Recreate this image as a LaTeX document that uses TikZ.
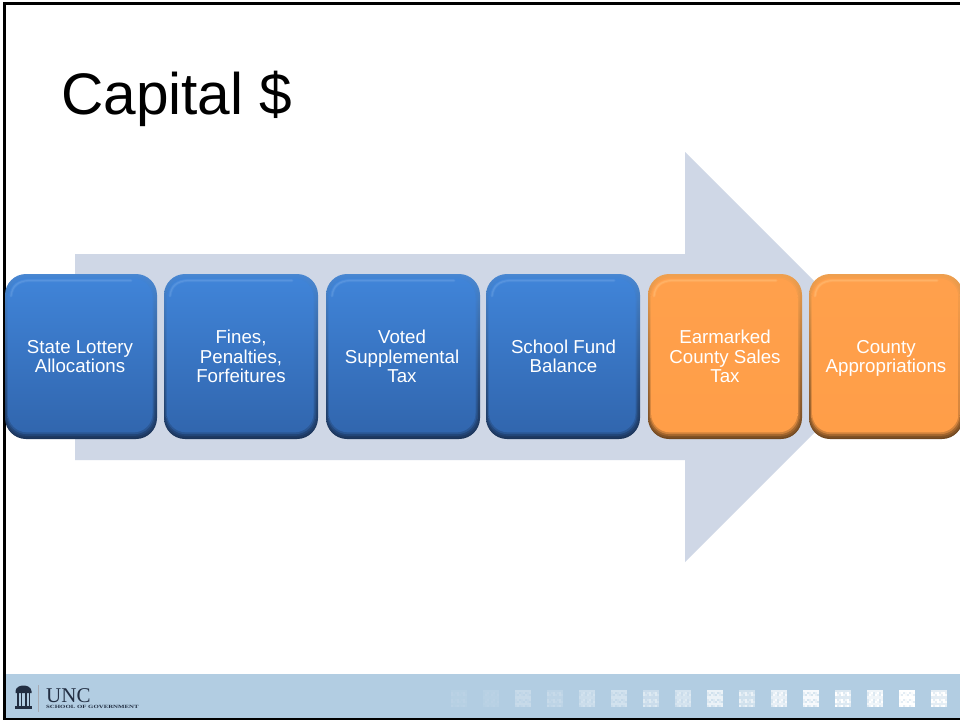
\documentclass[tikz,border=0pt]{standalone}
\usepackage{fontspec}
\usepackage{graphicx}
\setmainfont{Liberation Sans}
\newfontfamily\logoserif{Liberation Serif}
\usetikzlibrary{calc}
\definecolor{arrowfill}{HTML}{CFD7E6}
\definecolor{bandfill}{HTML}{B2CDE2}
\definecolor{frameink}{HTML}{000000}
\definecolor{logoink}{HTML}{222E42}
\definecolor{blueA}{HTML}{4A88D2}\definecolor{blueB}{HTML}{2C5896}\definecolor{blueC}{HTML}{1B3358}
\definecolor{blueD}{HTML}{4084D8}\definecolor{blueE}{HTML}{3166AE}\definecolor{blueH}{HTML}{7FB0EA}
\definecolor{orangeA}{HTML}{EEA050}\definecolor{orangeB}{HTML}{A87038}\definecolor{orangeC}{HTML}{6E4620}
\definecolor{orangeD}{HTML}{FFA04C}\definecolor{orangeE}{HTML}{FF9E48}\definecolor{orangeH}{HTML}{FFD090}
\newcommand{\lblstrut}{\rule[-4pt]{0pt}{14pt}}
\tikzset{
  boxlabel/.style={text=white,font=\fontsize{18.7}{19.4}\selectfont,align=center,inner sep=0pt},
  titletext/.style={font=\fontsize{58.6}{60}\selectfont,anchor=base west,inner sep=0pt,text=black},
}
% name, x1, x2, label, colour prefix, label centre
\newcommand{\bevbox}[6]{%
  \path[rounded corners=21pt,top color=#5A,middle color=#5B,bottom color=#5C] (#2,274) rectangle (#3,439);
  \foreach \k/\o in {0/0.12,1/0.25,2/0.5,3/1}{
    \path[rounded corners=19pt,top color=#5D,bottom color=#5E,opacity=\o]
      (#2+1+\k*0.7,275+\k*1.2) rectangle (#3-1.5-\k*1.0,437.5-\k*1.7);
  }
  \draw[#5H,line width=3pt,opacity=.18,line cap=round] (#2+6,296) .. controls (#2+7,286) and (#2+13,281) .. (#2+24,280.5) -- (#3-26,280.5);
  \draw[#5H,line width=1.2pt,opacity=.25,line cap=round] (#2+6,296) .. controls (#2+7,286) and (#2+13,281) .. (#2+24,280.5) -- (#3-26,280.5);
  \node[boxlabel] (#1) at (#6,358.5) {\lblstrut #4\lblstrut};
}
\begin{document}
\begin{tikzpicture}[x=1pt,y=-1pt]
\useasboundingbox (0,0) rectangle (960,721);
\fill[white] (0,0) rectangle (960,721);
% big arrow
\fill[arrowfill] (75,254) -- (685,254) -- (685,152) -- (890,357) -- (685,562) -- (685,460) -- (75,460) -- cycle;
% frame (under the boxes)
\fill[frameink] (3,2) rectangle (960,4.5);
\fill[frameink] (3,2) rectangle (5.5,720);
% boxes
\bevbox{b1}{5}{157}{State Lottery\\Allocations}{blue}{80}
\bevbox{b2}{164}{318}{Fines,\\Penalties,\\Forfeitures}{blue}{241}
\bevbox{b3}{326}{480}{Voted\\Supplemental\\Tax}{blue}{402}
\bevbox{b4}{486}{640}{School Fund\\Balance}{blue}{563.5}
\bevbox{b5}{648}{802}{Earmarked\\County Sales\\Tax}{orange}{725}
\bevbox{b6}{809}{963}{County\\Appropriations}{orange}{886}
% title
\node[titletext] (title) at (61,114) {Capital \$};
% footer band
\fill[bandfill] (5.5,674) rectangle (960,718);
% fading squares
\foreach \i in {0,...,15}{
  \pgfmathsetmacro{\sx}{451+32*\i}
  \pgfmathsetmacro{\op}{0.09+0.84*(floor(\i/2)/7)}
  \foreach \a in {0,...,7}{
    \foreach \b in {0,...,7}{
      \pgfmathsetmacro{\w}{min(1,\op*(0.7+0.3*mod(3*\a*\a+5*\b*\b+\a*\b+\i,3)))}
      \fill[white,opacity=\w] (\sx+\a*2,690+\b*2.125) rectangle ++(2,2.125);
    }
  }
}
% logo
\fill[logoink] (15.5,691) .. controls (16,687) and (20,685.5) .. (23.5,685.5) .. controls (27,685.5) and (31,687) .. (31.5,691) -- (31.5,693) -- (15.5,693) -- cycle;
\foreach \cxx in {17,20.5,25,28.5}{\fill[logoink] (\cxx,693) rectangle ++(1.8,13);}
\fill[logoink] (15,706) rectangle (32,709);
\draw[logoink!40,line width=.8pt] (38.5,685) -- (38.5,712);
\node[font=\logoserif\fontsize{21}{21}\selectfont,text=logoink,anchor=base west,inner sep=0pt] (unc) at (46,702) {UNC};
\node[font=\logoserif\bfseries\fontsize{4.8}{5}\selectfont,text=logoink,anchor=base west,inner sep=0pt] (sog) at (46,708.5) {\scalebox{1.42}[1]{SCHOOL OF GOVERNMENT}};
% bottom frame
\fill[frameink] (3,718) rectangle (960,720);
\end{tikzpicture}
\end{document}
